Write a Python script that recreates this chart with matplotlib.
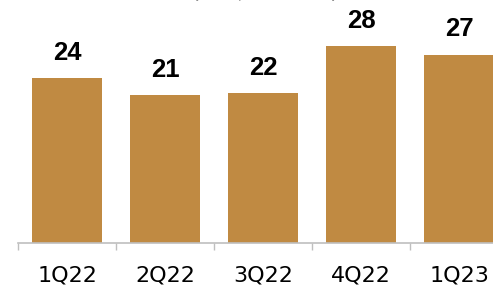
import matplotlib
matplotlib.use('Agg')
import matplotlib.pyplot as plt

# Quarterly values
quarters = ['1Q22', '2Q22', '3Q22', '4Q22', '1Q23']
values = [23.8, 21.4, 21.6, 28.4, 27.2]
title = '(US$ mn, %)'

BAR_COLOR = '#C08A42'
AXIS_COLOR = '#BFBFBF'


def main():
    fig = plt.figure(figsize=(4.93, 2.88), dpi=100)
    # axes runs past the right edge, as in the original crop
    ax = fig.add_axes([18 / 493, 45 / 288, 490 / 493, 243 / 288])

    x = range(len(quarters))
    bars = ax.bar(x, values, width=0.714, color=BAR_COLOR, edgecolor='none')

    # value labels above the bars
    for rect, v in zip(bars, values):
        ax.annotate(f'{v:.0f}', (rect.get_x() + rect.get_width() / 2, rect.get_height()),
                    xytext=(0, 9.5), textcoords='offset points', ha='center', va='bottom',
                    fontsize=18.5, fontweight='bold', family='Liberation Sans')

    ax.set_xlim(-0.5, len(quarters) - 0.5)
    ax.set_ylim(0, 35.1)

    # ticks sit between the categories
    ax.set_xticks([i - 0.5 for i in range(len(quarters) + 1)])
    ax.set_xticklabels([])
    ax.set_xticks(list(x), minor=True)
    ax.set_xticklabels(quarters, minor=True, fontsize=16, family='DejaVu Sans')
    ax.tick_params(axis='x', which='major', length=5, width=1, color=AXIS_COLOR, direction='out')
    ax.tick_params(axis='x', which='minor', length=0, pad=16)
    ax.set_yticks([])

    for side in ['top', 'right', 'left']:
        ax.spines[side].set_visible(False)
    ax.spines['bottom'].set_color(AXIS_COLOR)
    ax.spines['bottom'].set_linewidth(1.2)

    # title is mostly cut off at the top of the original
    fig.text(265 / 493, 1 + 3 / 288, title, ha='center', va='baseline',
             fontsize=17, family='DejaVu Sans', color='#222222')

    fig.savefig('out.png', dpi=100)


if __name__ == '__main__':
    main()
